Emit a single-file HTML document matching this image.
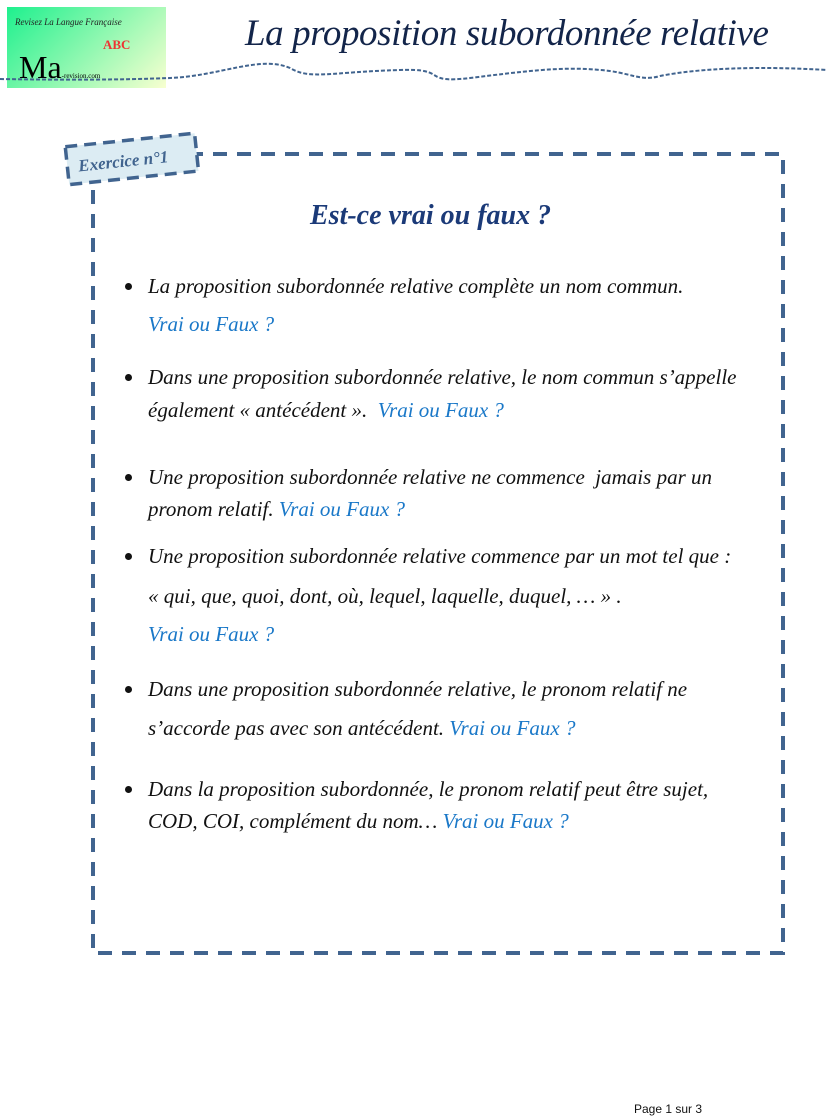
<!DOCTYPE html>
<html><head><meta charset="utf-8"><style>
body{margin:0;width:827px;height:1119px;background:#fff;position:relative;overflow:hidden;font-family:"Liberation Serif",serif}
.l{position:absolute;left:148px;font-style:italic;font-size:21px;color:#111;white-space:nowrap;line-height:24px}
.b{color:#1a78c8}
.d{position:absolute;left:125px;width:7px;height:7px;border-radius:50%;background:#111}
</style></head><body>
<div style="position:absolute;left:7px;top:7px;width:159px;height:81px;background:linear-gradient(135deg,#1ef08e,#f8ffd0)">
<div style="position:absolute;left:8px;top:10px;font-size:9px;font-style:italic;color:#222">Revisez La Langue Française</div>
<div style="position:absolute;left:96px;top:30px;font-size:13px;font-weight:bold;color:#e33">ABC</div>
<div style="position:absolute;left:12px;top:42px;font-size:32px;color:#000">Ma<span style="font-size:7px">-revision.com</span></div>
</div>
<div style="position:absolute;left:245px;top:12px;font-size:37px;font-style:italic;color:#13254a;letter-spacing:-0.4px">La proposition subordonnée relative</div>
<svg style="position:absolute;left:0;top:0" width="827" height="1119">
<path d="M0,79 C60,80 120,80 170,78 C220,76 260,55 290,68 C310,80 330,72 400,70 C450,68 420,84 470,78 C520,72 560,66 600,70 C630,72 640,82 660,76 C700,68 760,66 827,70" fill="none" stroke="#41648f" stroke-width="2" stroke-dasharray="4,2"/>
<rect x="93" y="154" width="690" height="799" fill="none" stroke="#41648f" stroke-width="4" stroke-dasharray="14,10"/>
<g transform="rotate(-6 131 160)"><rect x="67" y="140" width="130" height="38" fill="#dcecf3" stroke="#41648f" stroke-width="3.5" stroke-dasharray="12,7"/>
<text x="78" y="166" font-family="Liberation Serif" font-style="italic" font-weight="bold" font-size="17" fill="#41648f">Exercice n°1</text></g>
</svg>
<div style="position:absolute;left:310px;top:200px;font-size:28px;font-style:italic;font-weight:bold;color:#1b3a78">Est-ce vrai ou faux ?</div>
<div class="d" style="top:283px"></div>
<div class="l" style="top:274px">La proposition subordonnée relative complète un nom commun.</div>
<div class="l b" style="top:312px">Vrai ou Faux ?</div>
<div class="d" style="top:374px"></div>
<div class="l" style="top:365px">Dans une proposition subordonnée relative, le nom commun s’appelle</div>
<div class="l" style="top:398px">également « antécédent ».&nbsp; <span class="b">Vrai ou Faux ?</span></div>
<div class="d" style="top:474px"></div>
<div class="l" style="top:465px">Une proposition subordonnée relative ne commence&nbsp; jamais par un</div>
<div class="l" style="top:497px">pronom relatif. <span class="b">Vrai ou Faux ?</span></div>
<div class="d" style="top:553px"></div>
<div class="l" style="top:544px">Une proposition subordonnée relative commence par un mot tel que :</div>
<div class="l" style="top:584px">« qui, que, quoi, dont, où, lequel, laquelle, duquel, … » .</div>
<div class="l b" style="top:622px">Vrai ou Faux ?</div>
<div class="d" style="top:686px"></div>
<div class="l" style="top:677px">Dans une proposition subordonnée relative, le pronom relatif ne</div>
<div class="l" style="top:716px">s’accorde pas avec son antécédent. <span class="b">Vrai ou Faux ?</span></div>
<div class="d" style="top:786px"></div>
<div class="l" style="top:777px">Dans la proposition subordonnée, le pronom relatif peut être sujet,</div>
<div class="l" style="top:809px">COD, COI, complément du nom… <span class="b">Vrai ou Faux ?</span></div>
<div style="position:absolute;left:634px;top:1102px;font-family:'Liberation Sans',sans-serif;font-size:12px;color:#111">Page 1 sur 3</div>
</body></html>
